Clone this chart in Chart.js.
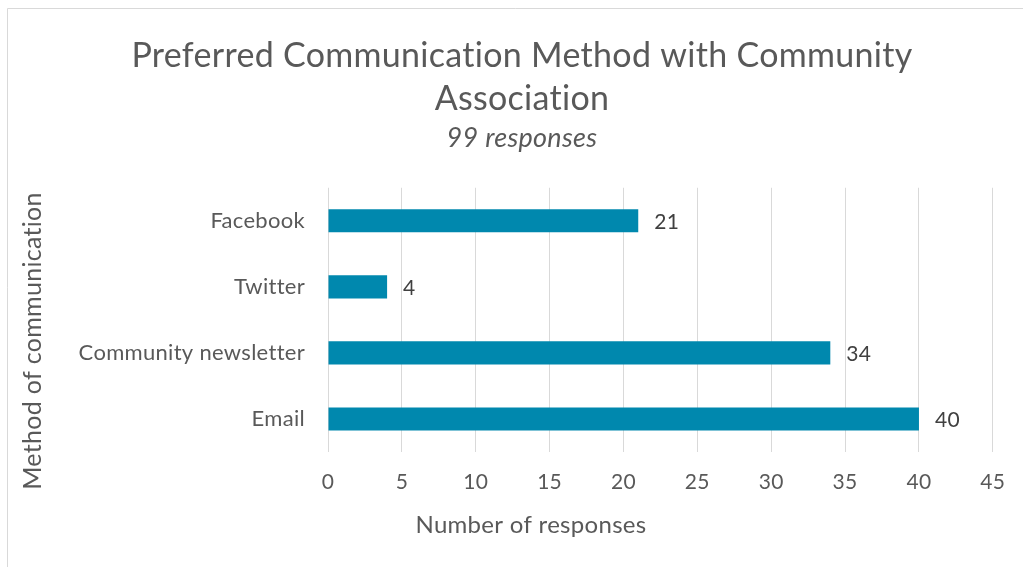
<!DOCTYPE html>
<html>
<head>
<meta charset="utf-8">
<script src="https://cdn.jsdelivr.net/npm/chart.js@4"></script>
<style>
  html, body { margin: 0; padding: 0; background: #fff; }
  #wrap { width: 1023px; height: 567px; position: relative; }
</style>
</head>
<body>
<div id="wrap"><canvas id="c" width="1023" height="567"></canvas></div>
<script>
const categories = ["Facebook", "Twitter", "Community newsletter", "Email"];
const responses = [21, 4, 34, 40];
const xTicks = [0, 5, 10, 15, 20, 25, 30, 35, 40, 45];
const yAxisTitle = "Method of communication";
const xAxisTitle = "Number of responses";

const FONT = "Lato, 'Open Sans', sans-serif";

const frame = {
  id: 'frame',
  beforeDraw(chart) {
    const ctx = chart.ctx;
    ctx.letterSpacing = '0.3px';
    ctx.save();
    ctx.fillStyle = '#fff';
    ctx.fillRect(0, 0, chart.width, chart.height);
    ctx.strokeStyle = '#d9d9d9';
    ctx.lineWidth = 1;
    ctx.beginPath();
    ctx.moveTo(7.5, chart.height);
    ctx.lineTo(7.5, 8.5);
    ctx.lineTo(chart.width, 8.5);
    ctx.stroke();
    ctx.restore();
  }
};

const axisTitles = {
  id: 'axisTitles',
  afterDraw(chart) {
    const ctx = chart.ctx;
    ctx.save();
    ctx.fillStyle = '#595959';
    ctx.textAlign = 'center';
    ctx.textBaseline = 'middle';
    ctx.font = "24px " + FONT;
    ctx.fillText(xAxisTitle, 531, 525);
    ctx.translate(33, 341);
    ctx.rotate(-Math.PI / 2);
    ctx.font = "25px " + FONT;
    ctx.fillText(yAxisTitle, 0, 0);
    ctx.restore();
  }
};

const dataLabels = {
  id: 'dataLabels',
  afterDatasetsDraw(chart) {
    const ctx = chart.ctx;
    const meta = chart.getDatasetMeta(0);
    ctx.save();
    ctx.font = "21px " + FONT;
    ctx.fillStyle = '#404040';
    ctx.textAlign = 'left';
    ctx.textBaseline = 'middle';
    meta.data.forEach((bar, i) => {
      ctx.fillText(String(chart.data.datasets[0].data[i]), bar.x + 16, bar.y + 1);
    });
    ctx.restore();
  }
};

new Chart(document.getElementById('c'), {
  type: 'bar',
  data: {
    labels: categories,
    datasets: [{
      data: responses,
      backgroundColor: '#0088ae',
      borderWidth: 0,
      categoryPercentage: 1,
      barPercentage: 0.35
    }]
  },
  options: {
    indexAxis: 'y',
    responsive: false,
    animation: false,
    layout: { padding: { top: 8, left: 47, right: 26, bottom: 0 } },
    plugins: {
      legend: { display: false },
      tooltip: { enabled: false },
      title: {
        display: true,
        text: ["Preferred Communication Method with Community", "Association"],
        color: '#595959',
        font: { family: FONT, size: 34, weight: 'normal', lineHeight: 1.27 },
        padding: { top: 26, bottom: 2 }
      },
      subtitle: {
        display: true,
        text: "99 responses",
        color: '#595959',
        font: { family: FONT, size: 27, style: 'italic', weight: 'normal', lineHeight: 1.2 },
        padding: { top: 0, bottom: 33 }
      }
    },
    scales: {
      x: {
        min: 0,
        max: 45,
        afterBuildTicks(scale) { scale.ticks = xTicks.map(v => ({ value: v })); },
        grid: { color: '#d9d9d9', lineWidth: 1, drawTicks: false },
        border: { display: false },
        ticks: { color: '#595959', font: { family: FONT, size: 21 }, padding: 18 },
        title: { display: false },
        afterFit(scale) { scale.height = 115; }
      },
      y: {
        grid: { display: false, drawTicks: false },
        border: { display: false },
        ticks: { color: '#595959', font: { family: FONT, size: 22 }, padding: 23 },
        afterFit(scale) { scale.width = 281; }
      }
    }
  },
  plugins: [frame, axisTitles, dataLabels]
});
</script>
</body>
</html>
